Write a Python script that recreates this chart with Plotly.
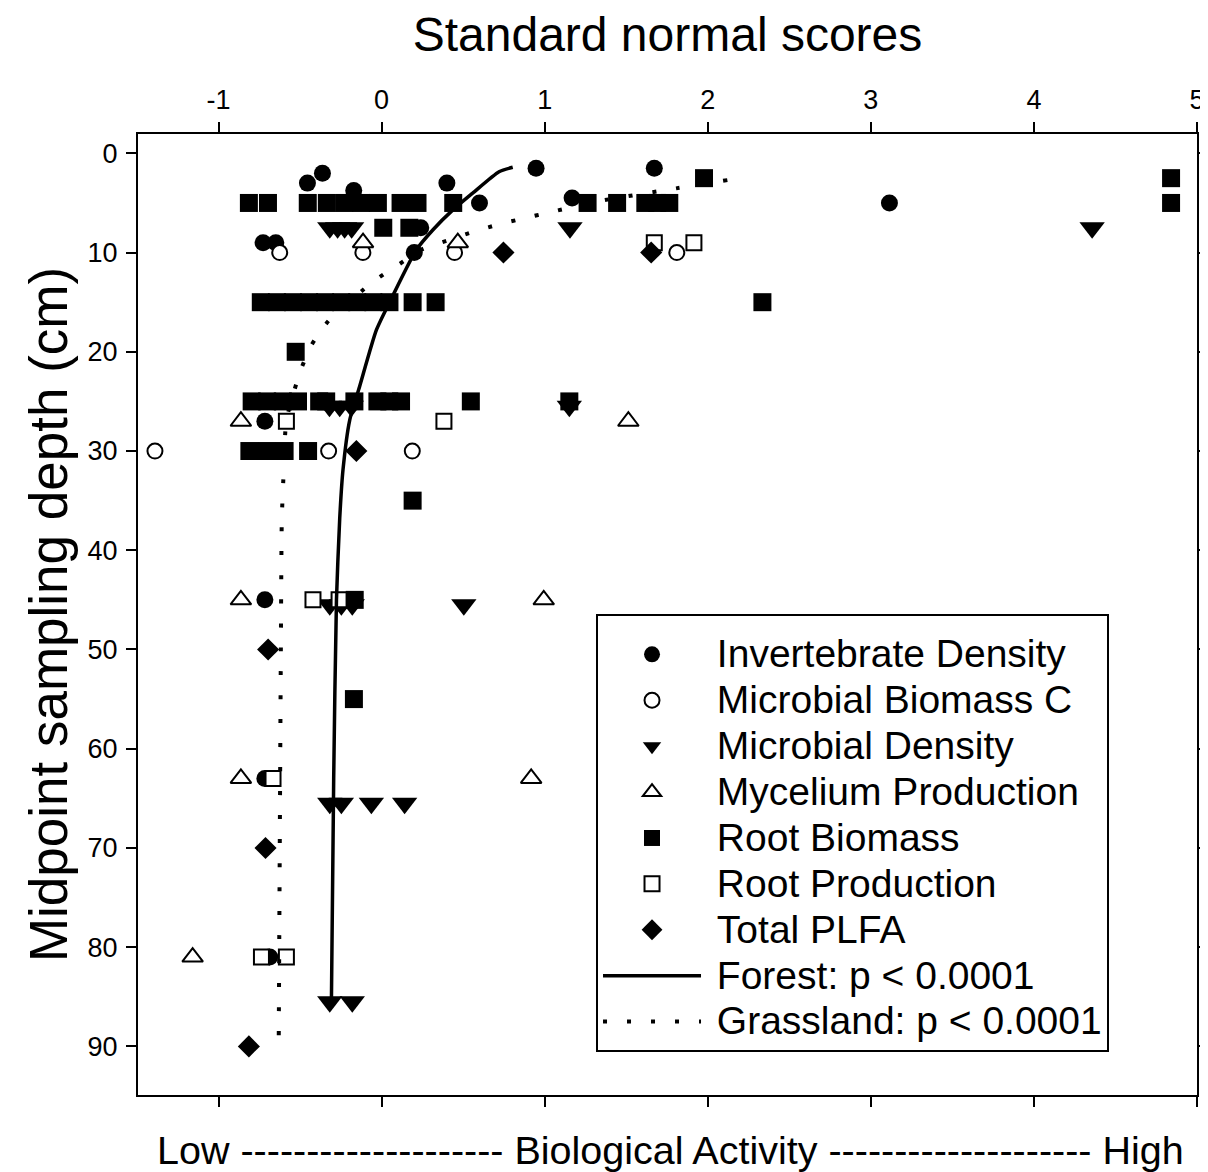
import plotly.graph_objects as go

FONT = "Liberation Sans, Arial, Helvetica, sans-serif"

# ---------------- data (x = standard normal score, y = midpoint depth cm) ----------------
inv_x = [0.947, 1.672, -0.363, -0.455, 0.40, -0.171, 1.168, 0.60, 3.114, 0.24,
         -0.727, -0.649, 0.20, -0.716, -0.716, -0.716, -0.686]
inv_y = [1.5, 1.5, 2, 3, 3, 3.75, 4.5, 5, 5, 7.5, 9, 9, 10, 27, 45, 63, 81]

mbc_x = [-0.625, -0.115, 0.447, 1.81, -1.39, -0.325, 0.188]
mbc_y = [10, 10, 10, 10, 30, 30, 30]

md_x = [-0.318, -0.27, -0.227, -0.184, 1.155, 4.357,
        -0.32, -0.257, -0.186, 1.151,
        -0.318, -0.247, -0.18, 0.504,
        -0.318, -0.247, -0.063, 0.141,
        -0.318, -0.18]
md_y = [7.5, 7.5, 7.5, 7.5, 7.5, 7.5,
        25.5, 25.5, 25.5, 25.5,
        45.5, 45.5, 45.5, 45.5,
        65.5, 65.5, 65.5, 65.5,
        85.5, 85.5]

myc_x = [-0.114, 0.467, -0.863, 1.513, -0.863, 0.994, -0.863, 0.917, -1.159]
myc_y = [9, 9, 27, 27, 45, 45, 63, 63, 81]

rb_x = [1.977, 4.841,
        -0.814, -0.697, -0.453, -0.336, -0.229, -0.125, -0.023, 0.116, 0.22, 0.439,
        1.263, 1.444, 1.617, 1.69, 1.764, 4.841,
        0.01, 0.17,
        -0.741, -0.642, -0.544, -0.445, -0.347, -0.248, -0.150, -0.051, 0.048, 0.19, 0.331, 2.335,
        -0.527,
        -0.797, -0.702, -0.606, -0.513, -0.383, -0.34, -0.167, -0.026, 0.047, 0.119, 0.547, 1.151,
        -0.811, -0.703, -0.595, -0.451,
        0.19,
        -0.165,
        -0.17]
rb_y = [2.5, 2.5,
        5, 5, 5, 5, 5, 5, 5, 5, 5, 5,
        5, 5, 5, 5, 5, 5,
        7.5, 7.5,
        15, 15, 15, 15, 15, 15, 15, 15, 15, 15, 15, 15,
        20,
        25, 25, 25, 25, 25, 25, 25, 25, 25, 25, 25, 25,
        30, 30, 30, 30,
        35,
        45,
        55]

rp_x = [1.672, 1.915, -0.584, 0.382, -0.421, -0.261, -0.666, -0.737, -0.584]
rp_y = [9, 9, 27, 27, 45, 45, 63, 81, 81]

plfa_x = [0.747, 1.653, -0.155, -0.696, -0.712, -0.814]
plfa_y = [10, 10, 30, 50, 70, 90]

forest_x = [0.804, 0.72, 0.559, 0.437, 0.315, 0.212, 0.049, -0.032, -0.135, -0.196,
            -0.237, -0.257, -0.277, -0.294, -0.308]
forest_y = [1.4, 1.85, 4.0, 5.7, 7.7, 9.75, 15, 17.8, 23.5, 26.9,
            31.9, 36.8, 45, 63, 85.5]

grass_x = [2.12, 1.806, 1.335, 1.029, 0.872, 0.718, 0.563, 0.412, 0.251, 0.10,
           -0.053, -0.325, -0.43, -0.496, -0.584, -0.60, -0.612, -0.618, -0.631]
grass_y = [2.7, 3.53, 4.81, 5.95, 6.55, 7.16, 7.9, 8.74, 9.65, 11.26,
           12.94, 16.87, 19.32, 21.84, 26.9, 31.85, 36.8, 50, 89.6]

x_ticks = [-1, 0, 1, 2, 3, 4, 5]
x_tick_text = ["-1", "0", "1", "2", "3", "4", "5"]
y_ticks = [0, 10, 20, 30, 40, 50, 60, 70, 80, 90]
y_tick_text = ["0", "10", "20", "30", "40", "50", "60", "70", "80", "90"]

# ---------------- figure ----------------
def nm(s):
    return "<span style='font-size:39px'>\u00a0" + s + "</span>"

fig = go.Figure()

def filled(x, y, name, symbol, size):
    fig.add_trace(go.Scatter(x=x, y=y, mode="markers", name=nm(name),
                             marker=dict(symbol=symbol, size=size, color="black",
                                         line=dict(width=0))))

def hollow(x, y, name, symbol, size):
    fig.add_trace(go.Scatter(x=x, y=y, mode="markers", name=nm(name),
                             marker=dict(symbol=symbol, size=size, color="white",
                                         line=dict(width=2, color="black"))))

filled(inv_x, inv_y, "Invertebrate Density", "circle", 17)
hollow(mbc_x, mbc_y, "Microbial Biomass C", "circle", 15)
filled(md_x, md_y, "Microbial Density", "triangle-down", 22)
hollow(myc_x, myc_y, "Mycelium Production", "triangle-up", 18)
filled(rb_x, rb_y, "Root Biomass", "square", 18)
hollow(rp_x, rp_y, "Root Production", "square", 15)
filled(plfa_x, plfa_y, "Total PLFA", "diamond", 17)

fig.add_trace(go.Scatter(x=forest_x, y=forest_y, mode="lines", name=nm("Forest: p < 0.0001"),
                         line=dict(color="black", width=3.5, shape="spline", smoothing=0.6)))
fig.add_trace(go.Scatter(x=grass_x, y=grass_y, mode="lines", name=nm("Grassland: p < 0.0001"),
                         line=dict(color="black", width=4, dash="4px,20px", shape="spline",
                                   smoothing=0.6)))

axis_common = dict(showline=True, linewidth=2, linecolor="black", mirror="ticks",
                   ticks="outside", ticklen=10, tickwidth=2, tickcolor="black",
                   showgrid=False, zeroline=False, automargin=False,
                   tickmode="array",
                   tickfont=dict(family=FONT, size=27, color="black"))

# page body has an 8px default margin, so the figure is made 8px smaller than the window
fig.update_layout(
    template="none",
    width=1200, height=1164,
    margin=dict(l=130, r=11, t=126, b=77, pad=0, autoexpand=False),
    paper_bgcolor="white", plot_bgcolor="white",
    font=dict(family=FONT, color="black"),
    xaxis=dict(range=[-1.494, 5.0], side="top", tickvals=x_ticks, ticktext=x_tick_text,
               ticklabelstandoff=2,
               title=dict(text="Standard normal scores", font=dict(family=FONT, size=48),
                          standoff=28),
               **axis_common),
    yaxis=dict(range=[94.9, -1.95], tickvals=y_ticks, ticktext=y_tick_text,
               ticklabelstandoff=3,
               title=dict(text="Midpoint sampling depth (cm)", font=dict(family=FONT, size=53),
                          standoff=3),
               **axis_common),
    legend=dict(x=0.4325, y=0.5005, xanchor="left", yanchor="top",
                bordercolor="black", borderwidth=2, bgcolor="white",
                font=dict(family=FONT, size=33, color="black"),
                title=dict(text="\u00a0", font=dict(family=FONT, size=8)),
                itemwidth=98, tracegroupgap=0),
    showlegend=True,
    annotations=[dict(
        text="Low -------------------- Biological Activity -------------------- High",
        xref="paper", yref="paper", x=0.5025, y=-0.057, xanchor="center", yanchor="middle",
        showarrow=False, font=dict(family=FONT, size=39.5, color="black"))],
)

fig.write_html("out.html")
